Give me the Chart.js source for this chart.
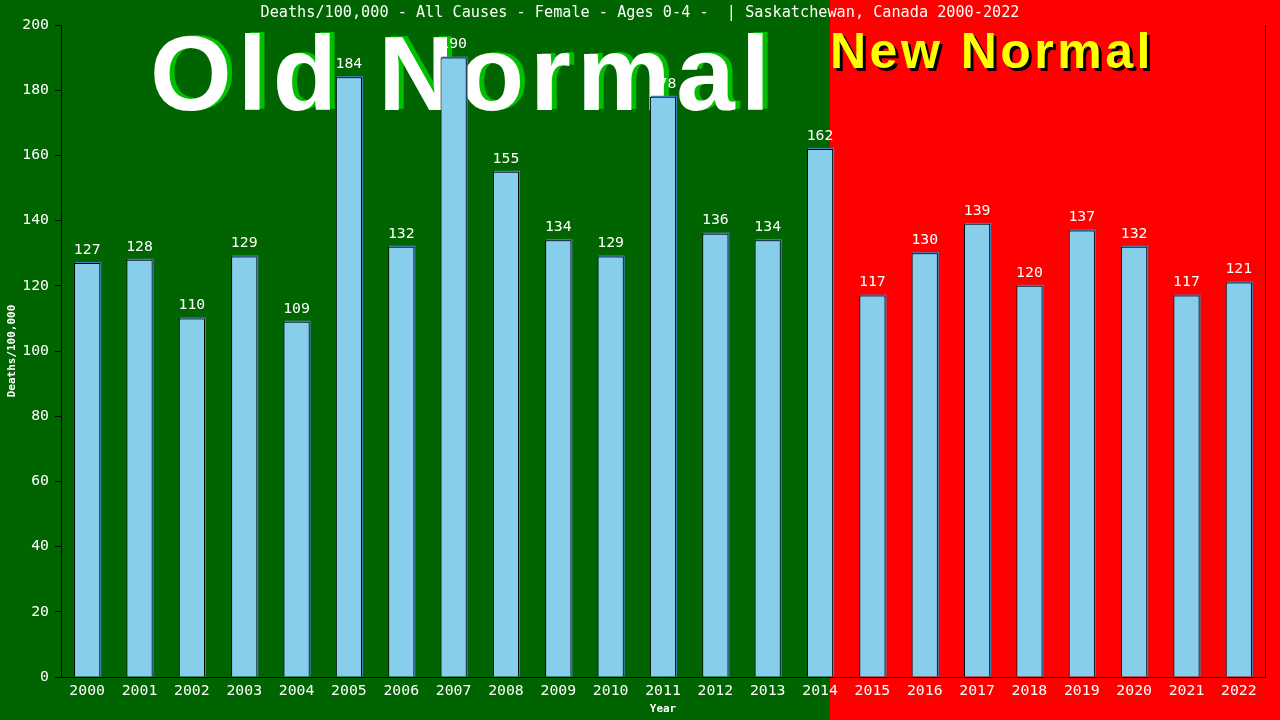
<!DOCTYPE html>
<html><head><meta charset="utf-8">
<script src="https://cdn.jsdelivr.net/npm/chart.js@4"></script>
<style>html,body{margin:0;padding:0;background:#006400;}canvas{display:block;}</style>
</head><body>
<canvas id="c" width="1280" height="720"></canvas>
<script>
const years = ["2000","2001","2002","2003","2004","2005","2006","2007","2008","2009","2010","2011","2012","2013","2014","2015","2016","2017","2018","2019","2020","2021","2022"];
const deaths = [127,128,110,129,109,184,132,190,155,134,129,178,136,134,162,117,130,139,120,137,132,117,121];
const yTicks = [0,20,40,60,80,100,120,140,160,180,200];
const titleText = "Deaths/100,000 - All Causes - Female - Ages 0-4 -  | Saskatchewan, Canada 2000-2022";
const lastOldIndex = 14;

const MONO = '"DejaVu Sans Mono", "Liberation Mono", monospace';
const SANS = '"Liberation Sans", Arial, sans-serif';

const deco = {
  id: 'deco',
  beforeDraw(chart) {
    const ctx = chart.ctx;
    const meta = chart.getDatasetMeta(0);
    const b = meta.data[lastOldIndex];
    const split = Math.round(b.x + b.width / 2 - 3);
    ctx.save();
    ctx.fillStyle = '#006400';
    ctx.fillRect(0, 0, split, chart.height);
    ctx.fillStyle = '#ff0000';
    ctx.fillRect(split, 0, chart.width - split, chart.height);
    // title
    ctx.fillStyle = '#ffffff';
    ctx.font = '15.2px ' + MONO;
    ctx.textAlign = 'center';
    ctx.textBaseline = 'middle';
    ctx.fillText(titleText, 640, 13);
    // Old Normal
    ctx.textAlign = 'left';
    ctx.textBaseline = 'alphabetic';
    ctx.font = 'bold 105px ' + SANS;
    try { ctx.letterSpacing = '6px'; } catch(e) {}
    ctx.fillStyle = '#00c000';
    ctx.fillText('Old Normal', 155, 109);
    ctx.fillStyle = '#ffffff';
    ctx.fillText('Old Normal', 150, 110);
    // New Normal
    ctx.font = 'bold 50px ' + SANS;
    try { ctx.letterSpacing = '3.5px'; } catch(e) {}
    ctx.fillStyle = '#000000';
    ctx.fillText('New Normal', split + 3, 71);
    ctx.fillStyle = '#ffff00';
    ctx.fillText('New Normal', split, 68);
    try { ctx.letterSpacing = '0px'; } catch(e) {}
    ctx.restore();
  },
  beforeDatasetsDraw(chart) {
    const ctx = chart.ctx;
    const meta = chart.getDatasetMeta(0);
    ctx.save();
    ctx.fillStyle = '#4682b4';
    meta.data.forEach(el => {
      ctx.fillRect(el.x - el.width / 2 + 1, el.y - 1, el.width, el.base - el.y + 1);
    });
    ctx.restore();
  },
  afterDatasetsDraw(chart) {
    const ctx = chart.ctx;
    const meta = chart.getDatasetMeta(0);
    ctx.save();
    ctx.fillStyle = '#ffffff';
    ctx.font = '14.8px ' + MONO;
    ctx.textAlign = 'center';
    ctx.textBaseline = 'middle';
    meta.data.forEach((el, i) => {
      ctx.fillText(String(deaths[i]), el.x, el.y - 13);
    });
    ctx.restore();
  },
  afterDraw(chart) {
    const ctx = chart.ctx;
    const a = chart.chartArea;
    ctx.save();
    ctx.strokeStyle = '#000000';
    ctx.lineWidth = 1;
    ctx.beginPath();
    ctx.moveTo(a.right + 0.5, a.top);
    ctx.lineTo(a.right + 0.5, a.bottom);
    ctx.stroke();
    ctx.restore();
  }
};

new Chart(document.getElementById('c'), {
  type: 'bar',
  data: {
    labels: years,
    datasets: [{
      data: deaths,
      backgroundColor: '#87ceeb',
      borderColor: '#000000',
      borderWidth: 1,
      barPercentage: 0.5,
      categoryPercentage: 1.0
    }]
  },
  options: {
    responsive: false,
    devicePixelRatio: 1,
    animation: false,
    layout: { padding: { top: 25, right: 15, left: 0, bottom: 0 } },
    plugins: { legend: { display: false }, title: { display: false }, tooltip: { enabled: false } },
    scales: {
      x: {
        grid: { display: false, drawTicks: false },
        border: { display: true, color: '#000000', width: 1 },
        ticks: { color: '#ffffff', font: { family: MONO, size: 14.8 }, padding: 5, maxRotation: 0, autoSkip: false },
        title: { display: true, text: 'Year', color: '#ffffff', font: { family: MONO, size: 11, weight: 'bold' }, padding: { top: 4, bottom: 4 } },
        afterFit(s) { s.height = 43; }
      },
      y: {
        min: 0, max: 200,
        afterBuildTicks(s) { s.ticks = yTicks.map(v => ({ value: v })); },
        grid: { display: true, drawOnChartArea: false, tickLength: 6, color: '#000000' },
        border: { display: true, color: '#000000', width: 1 },
        ticks: { color: '#ffffff', font: { family: MONO, size: 14.8 }, padding: 6 },
        title: { display: true, text: 'Deaths/100,000', color: '#ffffff', font: { family: MONO, size: 11, weight: 'bold' }, padding: { top: 6, bottom: 4 } },
        afterFit(s) { s.width = 61; }
      }
    }
  },
  plugins: [deco]
});
</script>
</body></html>
